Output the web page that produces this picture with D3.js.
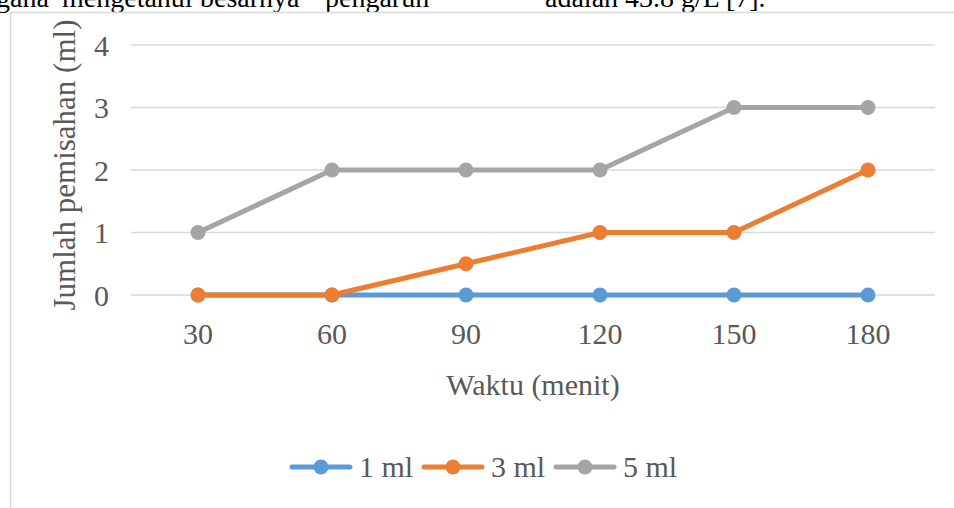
<!DOCTYPE html>
<html>
<head>
<meta charset="utf-8">
<script src="https://cdn.jsdelivr.net/npm/d3@7"></script>
<style>
  html, body { margin: 0; padding: 0; background: #fff; }
  svg { display: block; }
</style>
</head>
<body>
<svg id="chart" width="954" height="508"></svg>
<script>
// Separation volume over time for three dosages
const categories = ["30", "60", "90", "120", "150", "180"];
const seriesNames = ["1 ml", "3 ml", "5 ml"];
const values1ml = [0, 0, 0, 0, 0, 0];
const values3ml = [0, 0, 0.5, 1, 1, 2];
const values5ml = [1, 2, 2, 2, 3, 3];
const yTicks = [0, 1, 2, 3, 4];
const colors = ["#5B9BD5", "#ED7D31", "#A5A5A5"];

const series = [
  { name: seriesNames[0], values: values1ml, color: colors[0] },
  { name: seriesNames[1], values: values3ml, color: colors[1] },
  { name: seriesNames[2], values: values5ml, color: colors[2] }
];

const svg = d3.select("#chart");
const font = "'Liberation Serif', 'Times New Roman', serif";
const textColor = "#595959";
const fs = 30;

// Running text of the page above the figure (justified line)
const bodyWords = [
  { t: "gana", x: -4 },
  { t: "mengetahui", x: 62 },
  { t: "besarnya", x: 200 },
  { t: "pengaruh", x: 325 },
  { t: "adalah 43.8 g/L [7].", x: 545 }
];
svg.append("g").selectAll("text").data(bodyWords).join("text")
  .attr("x", d => d.x).attr("y", 7)
  .attr("font-family", font).attr("font-size", 28).attr("fill", "#000")
  .text(d => d.t);

// Chart frame
svg.append("path")
  .attr("d", "M10.5,520 V12.5 H970")
  .attr("fill", "none").attr("stroke", "#d9d9d9").attr("stroke-width", 1.5);

const plot = { left: 131, right: 935, top: 45, bottom: 295 };

const x = d3.scaleBand().domain(categories).range([plot.left, plot.right]);
const y = d3.scaleLinear().domain([0, 4]).range([plot.bottom, plot.top]);
const cx = c => x(c) + x.bandwidth() / 2;

// Horizontal gridlines
svg.append("g").selectAll("line").data(yTicks).join("line")
  .attr("x1", plot.left).attr("x2", plot.right)
  .attr("y1", d => y(d)).attr("y2", d => y(d))
  .attr("stroke", "#d9d9d9").attr("stroke-width", 1.5);

// Y axis labels
const yAxis = d3.axisLeft(y).tickValues(yTicks).tickSize(0).tickPadding(0).tickFormat(d3.format("d"));
const gy = svg.append("g").attr("transform", `translate(${109},0)`).call(yAxis);
gy.select(".domain").remove();
gy.selectAll("text")
  .attr("font-family", font).attr("font-size", fs).attr("fill", textColor)
  .attr("dy", "0.34em");

// X axis labels
const xAxis = d3.axisBottom(x).tickSize(0).tickPadding(0);
const gx = svg.append("g").attr("transform", `translate(0,${344})`).call(xAxis);
gx.select(".domain").remove();
gx.selectAll("text")
  .attr("font-family", font).attr("font-size", fs).attr("fill", textColor)
  .attr("dy", "0");

// Axis titles
svg.append("text")
  .attr("transform", `translate(${75},${165}) rotate(-90)`)
  .attr("text-anchor", "middle")
  .attr("font-family", font).attr("font-size", 31).attr("fill", textColor)
  .text("Jumlah pemisahan (ml)");
svg.append("text")
  .attr("x", 533).attr("y", 395)
  .attr("text-anchor", "middle")
  .attr("font-family", font).attr("font-size", fs).attr("fill", textColor)
  .text("Waktu (menit)");

// Lines and markers
const line = d3.line().x((d, i) => cx(categories[i])).y(d => y(d));
series.forEach(s => {
  const g = svg.append("g");
  g.append("path")
    .attr("d", line(s.values))
    .attr("fill", "none").attr("stroke", s.color)
    .attr("stroke-width", 5).attr("stroke-linejoin", "round").attr("stroke-linecap", "round");
  g.selectAll("circle").data(s.values).join("circle")
    .attr("cx", (d, i) => cx(categories[i])).attr("cy", d => y(d))
    .attr("r", 7.5).attr("fill", s.color);
});

// Legend
const legendY = 467;
const legendItems = [292, 424, 556];
series.forEach((s, i) => {
  const lx = legendItems[i];
  const g = svg.append("g").attr("transform", `translate(${lx},${legendY})`);
  g.append("line").attr("x1", 0).attr("x2", 58).attr("y1", 0).attr("y2", 0)
    .attr("stroke", s.color).attr("stroke-width", 5).attr("stroke-linecap", "round");
  g.append("circle").attr("cx", 29).attr("cy", 0).attr("r", 7.5).attr("fill", s.color);
  g.append("text").attr("x", 67).attr("y", 10)
    .attr("font-family", font).attr("font-size", fs).attr("fill", textColor)
    .text(s.name);
});
</script>
</body>
</html>
